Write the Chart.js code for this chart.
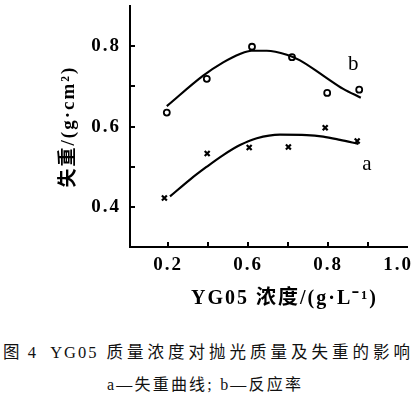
<!DOCTYPE html>
<html><head><meta charset="utf-8">
<script src="https://cdn.jsdelivr.net/npm/chart.js@4"></script>
<style>
html,body{margin:0;padding:0;background:#fff;width:420px;height:398px;overflow:hidden;}
#wrap{position:relative;width:420px;height:398px;}
#c{position:absolute;left:0;top:0;}
.txt{position:absolute;white-space:pre;color:#111;font-family:"Liberation Serif","Noto Sans CJK SC",serif;}
.lat{letter-spacing:2px;}
</style></head><body>
<div id="wrap">
<canvas id="c" width="420" height="320" style="width:420px;height:320px"></canvas>
<div class="txt" id="xtitle" style="left:191px;top:281px;font-size:20px;font-weight:bold;letter-spacing:2px;color:#000">YG05 浓度/(g·L⁻¹)</div>
<div class="txt" style="left:3px;top:339px;font-size:16.5px;letter-spacing:4px"><span class="lat">图 4  YG05</span> 质量浓度对抛光质量及失重的影响</div>
<div class="txt" style="left:107px;top:371px;font-size:16px;letter-spacing:2.2px">a—失重曲线; b—反应率</div>
</div>
<script>
// x positions are slots of the (evenly spaced) original tick marks
const xTickSlots = [0, 1, 2, 3, 4, 5];
const xLabelSlots = [0, 2, 4, 5.75];
const xLabelTexts = ['0.2', '0.6', '0.8', '1.0'];
const yTickValues = [0.4, 0.5, 0.6, 0.7, 0.8];
const yLabelValues = [0.4, 0.6, 0.8];

// a: weight loss (crosses)
const lossX = [-0.09, 0.98, 2.03, 3.01, 3.93, 4.73];
const lossY = [0.422, 0.533, 0.548, 0.549, 0.597, 0.564];
// b: reaction rate (circles)
const rateX = [-0.03, 0.97, 2.10, 3.10, 3.98, 4.78];
const rateY = [0.635, 0.719, 0.799, 0.773, 0.684, 0.692];

// fitted curves
const lossCurveX = [0.05, 0.55, 0.97, 1.38, 1.80, 2.22, 2.80, 3.47, 3.88, 4.30, 4.76];
const lossCurveY = [0.426, 0.468, 0.500, 0.529, 0.554, 0.571, 0.580, 0.579, 0.575, 0.567, 0.557];
const rateCurveX = [-0.03, 0.88, 1.38, 1.80, 2.09, 2.47, 2.97, 3.30, 3.88, 4.38, 4.82];
const rateCurveY = [0.651, 0.727, 0.760, 0.781, 0.789, 0.789, 0.779, 0.765, 0.727, 0.694, 0.672];

const seriesTags = ['a', 'b'];
const tagX = [4.97, 4.63];
const tagY = [0.505, 0.756];

const yTitle = '失重/(g·cm²)';

const pts = (xs, ys) => xs.map((x, i) => ({x: x, y: ys[i]}));

const inward = {
  id: 'inward',
  beforeDraw(chart) { chart.ctx.letterSpacing = '2px'; },
  afterDraw(chart) {
    const {ctx, chartArea: a, scales: {x, y}} = chart;
    ctx.save();
    ctx.letterSpacing = '0px';
    ctx.strokeStyle = '#000';
    ctx.lineWidth = 2;
    ctx.beginPath();
    xTickSlots.forEach(v => {
      const px = Math.round(x.getPixelForValue(v));
      ctx.moveTo(px, a.bottom);
      ctx.lineTo(px, a.bottom - 5);
    });
    yTickValues.forEach(v => {
      const py = Math.round(y.getPixelForValue(v));
      ctx.moveTo(a.left, py);
      ctx.lineTo(a.left + 5, py);
    });
    ctx.stroke();
    ctx.font = '21px "Liberation Serif"';
    ctx.fillStyle = '#000';
    ctx.textAlign = 'center';
    ctx.textBaseline = 'middle';
    seriesTags.forEach((t, i) => ctx.fillText(t, x.getPixelForValue(tagX[i]), y.getPixelForValue(tagY[i])));
    ctx.restore();
  }
};

const tickFont = {family: '"Liberation Serif", serif', size: 19, weight: 'bold'};

new Chart(document.getElementById('c'), {
  type: 'scatter',
  data: {
    datasets: [
      {label: 'b curve', data: pts(rateCurveX, rateCurveY), showLine: true, borderColor: '#000', borderWidth: 2.2, pointRadius: 0, cubicInterpolationMode: 'monotone', fill: false},
      {label: 'a curve', data: pts(lossCurveX, lossCurveY), showLine: true, borderColor: '#000', borderWidth: 2.2, pointRadius: 0, cubicInterpolationMode: 'monotone', fill: false},
      {label: 'b', data: pts(rateX, rateY), showLine: false, pointStyle: 'circle', pointRadius: 3, borderWidth: 1.8, borderColor: '#000', backgroundColor: '#fff'},
      {label: 'a', data: pts(lossX, lossY), showLine: false, pointStyle: 'crossRot', pointRadius: 3.5, borderWidth: 2.2, borderColor: '#000', backgroundColor: '#000'}
    ]
  },
  options: {
    responsive: false,
    animation: false,
    devicePixelRatio: 1,
    layout: {padding: {top: 4, right: 13, bottom: 0, left: 0}},
    plugins: {legend: {display: false}, tooltip: {enabled: false}},
    scales: {
      x: {
        type: 'linear', min: -0.95, max: 5.975,
        afterFit: s => { s.height = 73; s.paddingLeft = 0; s.paddingRight = 0; },
        afterBuildTicks: s => { s.ticks = xLabelSlots.map(v => ({value: v})); },
        grid: {display: false, drawTicks: false},
        border: {display: true, color: '#000', width: 2},
        ticks: {
          autoSkip: false, maxRotation: 0, padding: 7, color: '#000', font: tickFont,
          callback: v => { const i = xLabelSlots.indexOf(v); return i >= 0 ? xLabelTexts[i] : ''; }
        }
      },
      y: {
        type: 'linear', min: 0.3, max: 0.9,
        afterFit: s => { s.width = 130; s.paddingTop = 0; s.paddingBottom = 0; },
        afterBuildTicks: s => { s.ticks = yTickValues.map(v => ({value: v})); },
        grid: {display: false, drawTicks: false},
        border: {display: true, color: '#000', width: 2},
        ticks: {
          padding: 9, color: '#000', font: tickFont,
          callback: v => yLabelValues.some(l => Math.abs(l - v) < 1e-6) ? v.toFixed(1) : ''
        },
        title: {
          display: true, text: yTitle, color: '#000',
          font: {family: '"Liberation Serif", "Noto Sans CJK SC", serif', size: 19, weight: 'bold'},
          padding: {top: 58, bottom: 0}
        }
      }
    }
  },
  plugins: [inward]
});
</script>
</body></html>
